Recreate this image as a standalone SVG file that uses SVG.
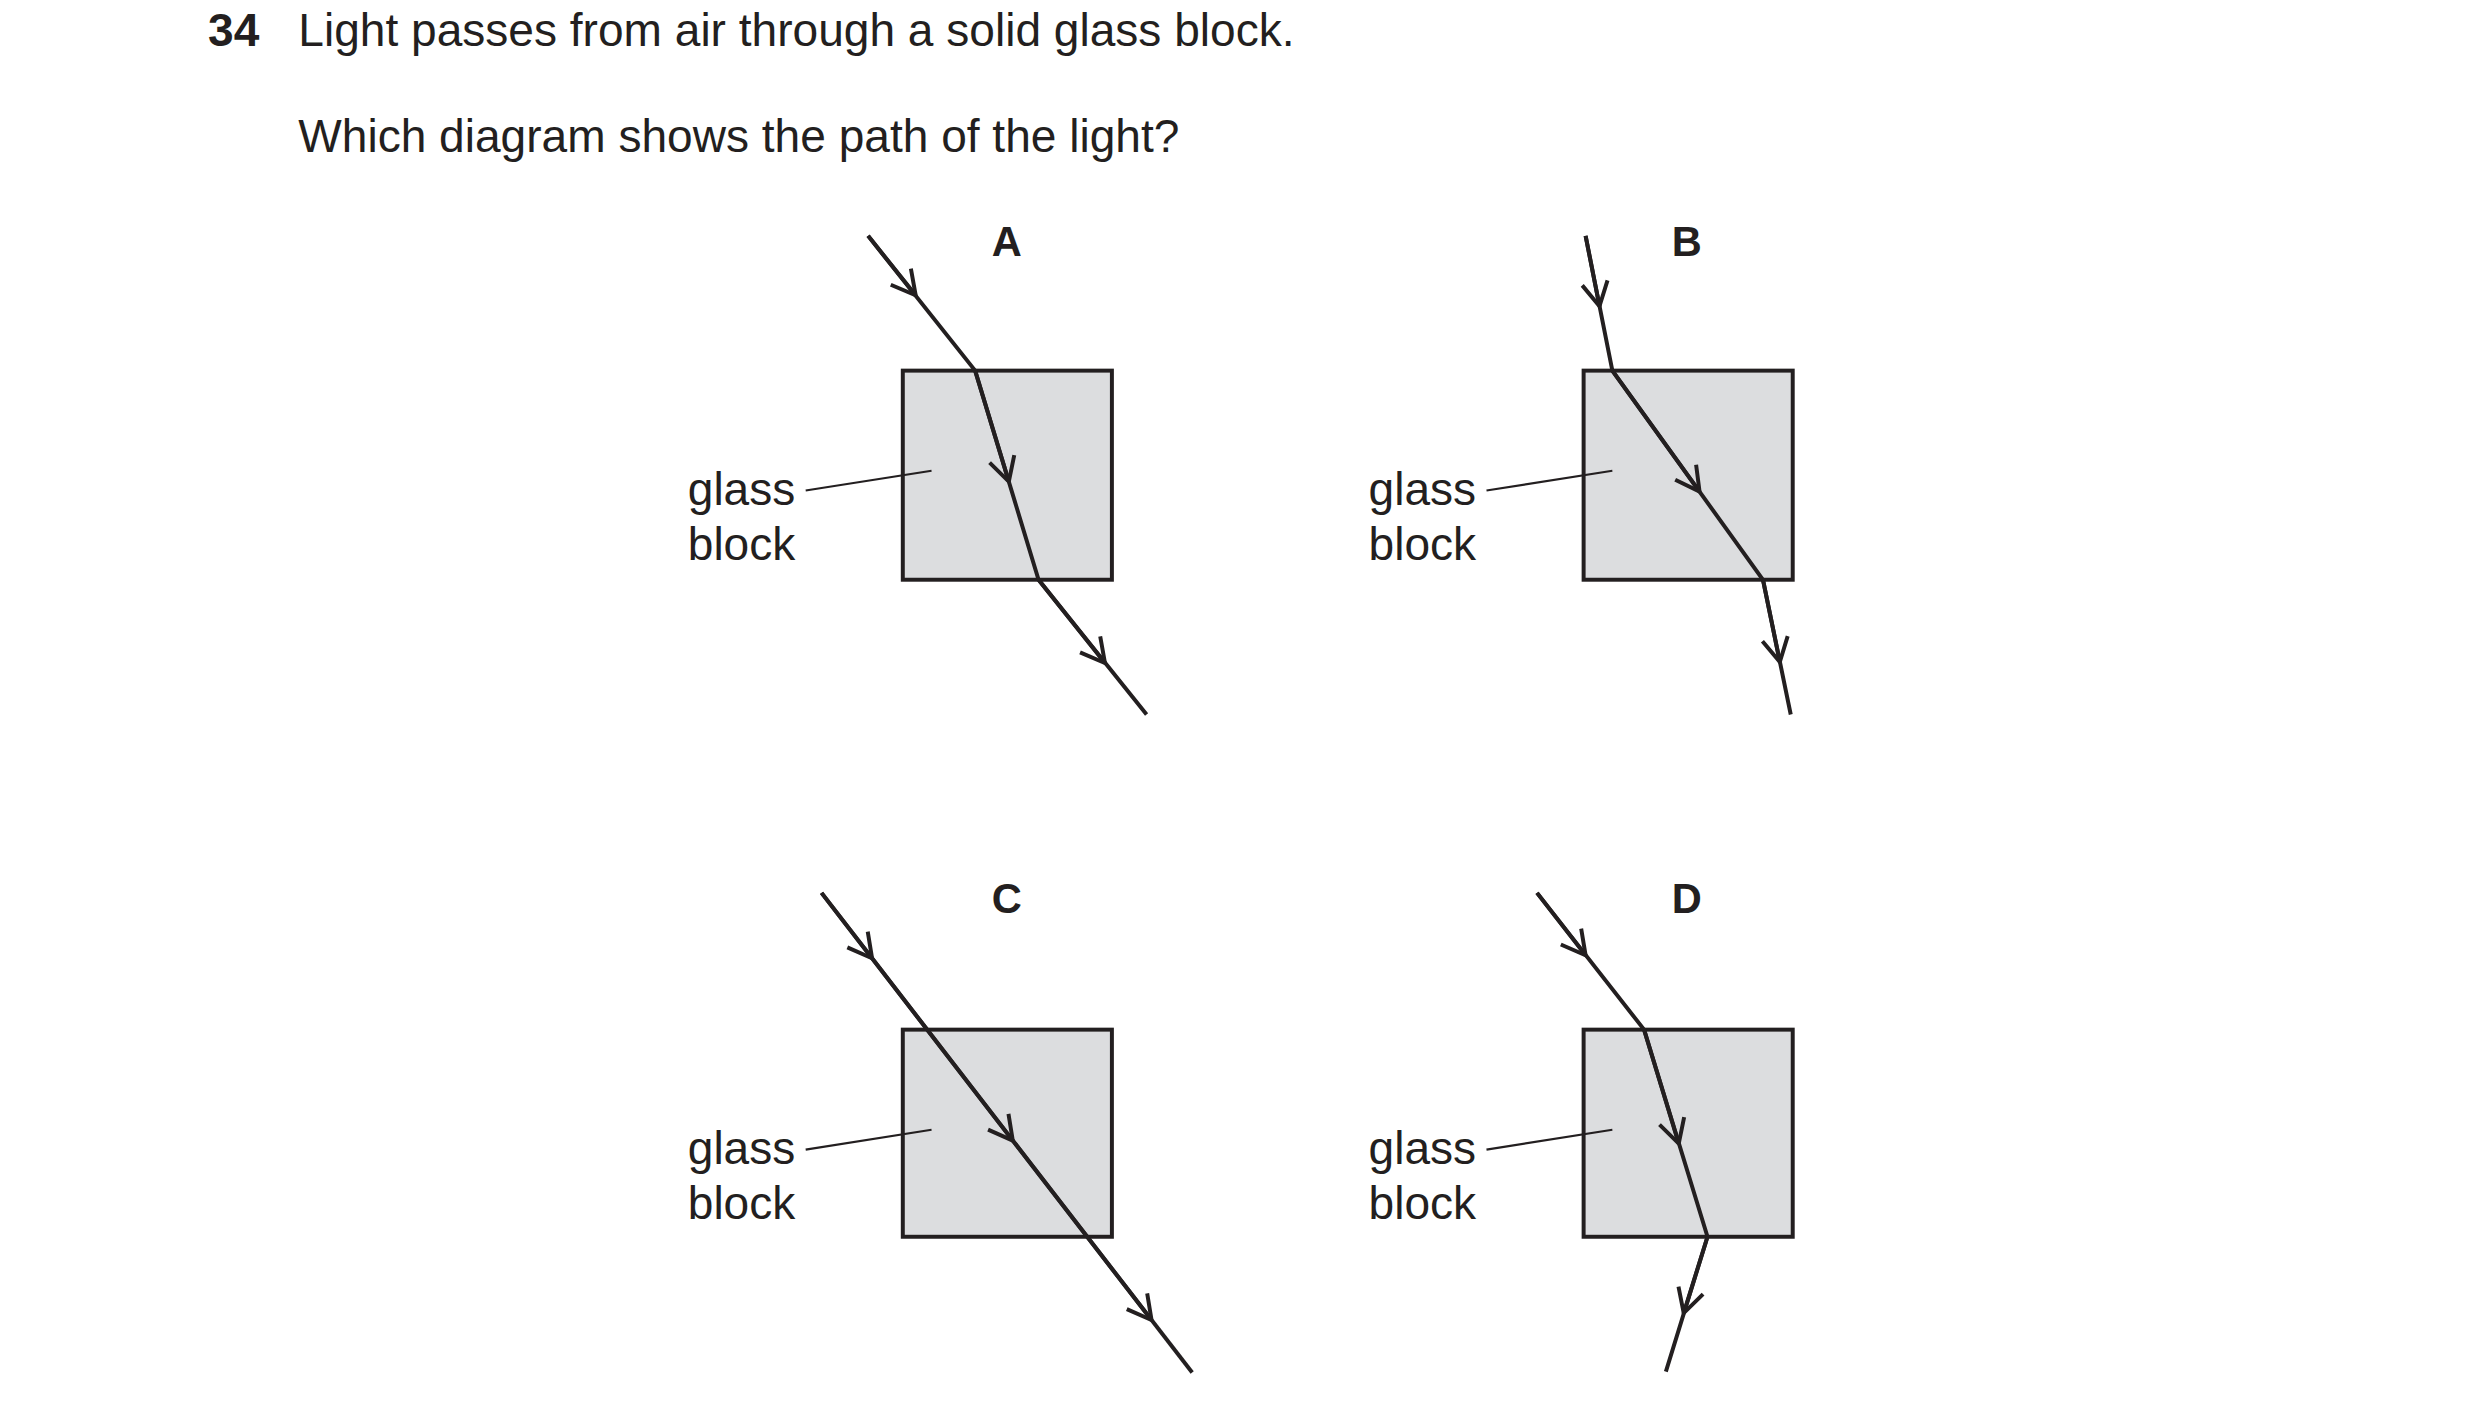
<svg xmlns="http://www.w3.org/2000/svg" width="2480" height="1412" viewBox="0 0 2480 1412">
<style>
text{font-family:"Liberation Sans",Arial,sans-serif;fill:#231f20}
.t{font-size:46.5px}.b{font-weight:bold}.l{font-size:46.5px}.h{font-size:42px;font-weight:bold;text-anchor:middle}
.box{fill:#dcdddf;stroke:#231f20;stroke-width:4}
.ray{stroke:#231f20;stroke-width:4;fill:none}
.ld{stroke:#231f20;stroke-width:2.2}
</style>
<defs><marker id="ar" markerUnits="userSpaceOnUse" markerWidth="40" markerHeight="40" refX="0" refY="0" viewBox="-30 -20 40 40" orient="auto"><path d="M-24 -13 L0 0 L-24 13" fill="none" stroke="#231f20" stroke-width="4"/></marker></defs>
<rect width="2480" height="1412" fill="#fff"/>
<g transform="scale(0.991)">
<text class="t b" x="210" y="46">34</text>
<text class="t" x="301" y="46">Light passes from air through a solid glass block.</text>
<text class="t" x="301" y="153">Which diagram shows the path of the light?</text>
<g id="A"><text class="h" x="1016" y="258">A</text>
<rect class="box" x="911" y="374" width="211" height="211"/>
<line class="ld" x1="813" y1="495" x2="940" y2="475"/>
<text class="l" x="694" y="510">glass</text><text class="l" x="694" y="565">block</text></g>
<g id="B"><text class="h" x="1702" y="258">B</text>
<rect class="box" x="1598" y="374" width="211" height="211"/>
<line class="ld" x1="1500" y1="495" x2="1627" y2="475"/>
<text class="l" x="1381" y="510">glass</text><text class="l" x="1381" y="565">block</text></g>
<g id="C"><text class="h" x="1016" y="921">C</text>
<rect class="box" x="911" y="1039" width="211" height="209"/>
<line class="ld" x1="813" y1="1160" x2="940" y2="1140"/>
<text class="l" x="694" y="1175">glass</text><text class="l" x="694" y="1230">block</text></g>
<g id="D"><text class="h" x="1702" y="921">D</text>
<rect class="box" x="1598" y="1039" width="211" height="209"/>
<line class="ld" x1="1500" y1="1160" x2="1627" y2="1140"/>
<text class="l" x="1381" y="1175">glass</text><text class="l" x="1381" y="1230">block</text></g>
<g id="connectors">
<polyline class="ray" points="876,238 984,374 1048,585 1157,721"/>
<line class="ray" x1="876" y1="238" x2="924" y2="298" marker-end="url(#ar)"/>
<line class="ray" x1="984" y1="374" x2="1018" y2="486" marker-end="url(#ar)"/>
<line class="ray" x1="1048" y1="585" x2="1115" y2="669" marker-end="url(#ar)"/>
<polyline class="ray" points="1600,238 1627,374 1779,585 1807,721"/>
<line class="ray" x1="1600" y1="238" x2="1614" y2="309" marker-end="url(#ar)"/>
<line class="ray" x1="1627" y1="374" x2="1715" y2="496" marker-end="url(#ar)"/>
<line class="ray" x1="1779" y1="585" x2="1796" y2="668" marker-end="url(#ar)"/>
<line class="ray" x1="829" y1="901" x2="1203" y2="1385"/>
<line class="ray" x1="829" y1="901" x2="880" y2="967" marker-end="url(#ar)"/>
<line class="ray" x1="880" y1="967" x2="1022" y2="1151" marker-end="url(#ar)"/>
<line class="ray" x1="1022" y1="1151" x2="1162" y2="1332" marker-end="url(#ar)"/>
<polyline class="ray" points="1551,901 1659,1039 1723,1248 1681,1384"/>
<line class="ray" x1="1551" y1="901" x2="1600" y2="964" marker-end="url(#ar)"/>
<line class="ray" x1="1659" y1="1039" x2="1694" y2="1154" marker-end="url(#ar)"/>
<line class="ray" x1="1723" y1="1248" x2="1699" y2="1325" marker-end="url(#ar)"/>
</g>
</g>
</svg>
